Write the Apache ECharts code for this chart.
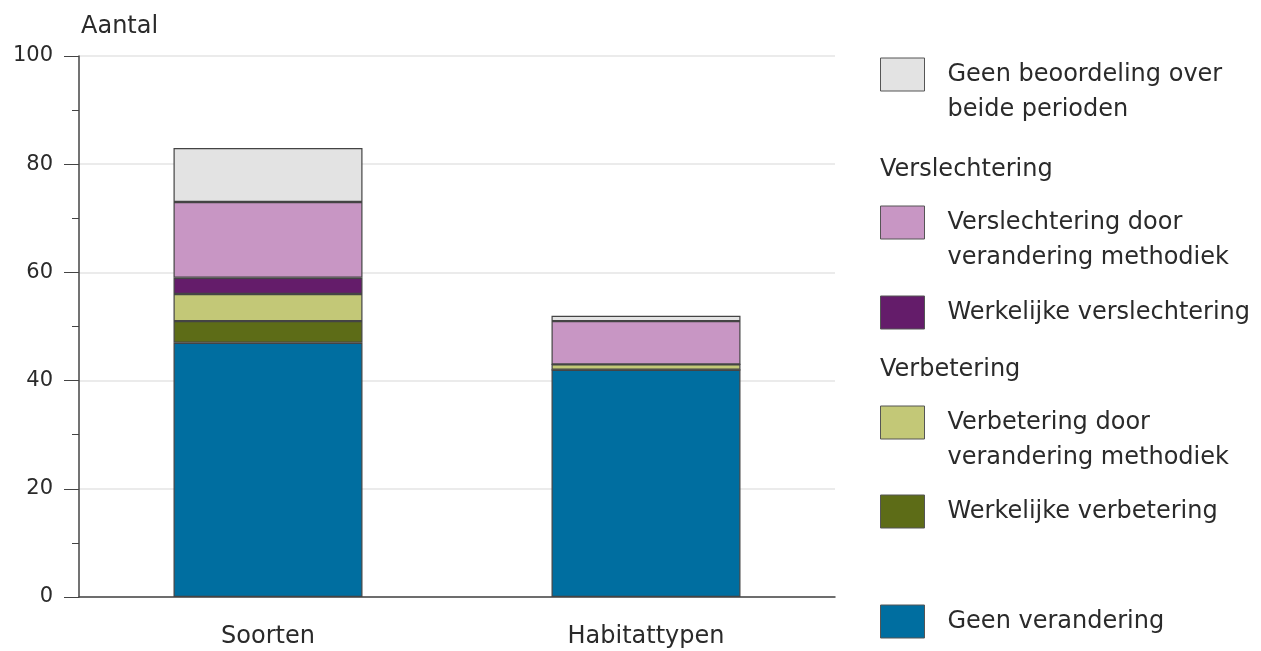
<!DOCTYPE html>
<html><head><meta charset="utf-8">
<script src="https://cdn.jsdelivr.net/npm/echarts@6/dist/echarts.min.js"></script>
<style>html,body{margin:0;padding:0;background:#fff}#c{width:1261px;height:651px}</style>
</head><body><div id="c"></div>
<script>
const categories = ['Soorten', 'Habitattypen'];
const geenVerandering = [47, 42];
const werkelijkeVerbetering = [4, 0];
const verbeteringMethodiek = [5, 1];
const werkelijkeVerslechtering = [3, 0];
const verslechteringMethodiek = [14, 8];
const geenBeoordeling = [10, 1];
const yTicks = [0, 20, 40, 60, 80, 100];

const FONT = 'DejaVu Sans';
const seriesDefs = [
  {name: 'Geen verandering', data: geenVerandering, color: '#006ea0', legendTop: 604},
  {name: 'Werkelijke verbetering', data: werkelijkeVerbetering, color: '#5d6c17', legendTop: 494},
  {name: 'Verbetering door\nverandering methodiek', data: verbeteringMethodiek, color: '#c3c877', legendTop: 405},
  {name: 'Werkelijke verslechtering', data: werkelijkeVerslechtering, color: '#641c6a', legendTop: 295},
  {name: 'Verslechtering door\nverandering methodiek', data: verslechteringMethodiek, color: '#c896c4', legendTop: 205},
  {name: 'Geen beoordeling over\nbeide perioden', data: geenBeoordeling, color: '#e3e3e3', legendTop: 57}
];

const chart = echarts.init(document.getElementById('c'));
const legends = seriesDefs.map(s => {
  const two = s.name.indexOf('\n') >= 0;
  return {
    data: [{name: s.name, icon: 'rect'}], left: 880, top: two ? s.legendTop - 35 : s.legendTop,
    padding: 0, orient: 'vertical', itemWidth: 44, itemHeight: 33, selectedMode: false,
    itemStyle: {borderColor: '#555', borderWidth: 1},
    formatter: two ? (n => ' \n' + n) : (n => n),
    textStyle: {fontFamily: FONT, fontSize: 24, color: '#2a2a2a', lineHeight: 35, padding: [0, 0, 0, 18]}
  };
});
chart.setOption({
  animation: false,
  textStyle: {fontFamily: FONT},
  grid: {left: 79, right: 426, top: 56, bottom: 54},
  legend: legends,
  graphic: [
    {type: 'text', left: 880, top: 158, style: {text: 'Verslechtering', fontFamily: FONT, fontSize: 24, fill: '#2a2a2a'}},
    {type: 'text', left: 880, top: 358, style: {text: 'Verbetering', fontFamily: FONT, fontSize: 24, fill: '#2a2a2a'}}
  ],
  xAxis: {
    type: 'category', data: categories,
    axisLine: {lineStyle: {color: '#444', width: 1.5}},
    axisTick: {show: false},
    axisLabel: {fontSize: 24, color: '#2a2a2a', margin: 28}
  },
  yAxis: {
    type: 'value', min: yTicks[0], max: yTicks[yTicks.length - 1], interval: 20,
    name: 'Aantal', nameLocation: 'end', nameGap: 17,
    nameTextStyle: {fontSize: 24, color: '#2a2a2a', align: 'left', padding: [0, 0, 0, 2]},
    axisLine: {show: true, lineStyle: {color: '#444', width: 1.5}},
    axisTick: {show: true, length: 15, lineStyle: {color: '#444'}},
    minorTick: {show: true, splitNumber: 2, length: 7, lineStyle: {color: '#444'}},
    axisLabel: {fontSize: 21, color: '#2a2a2a', margin: 26},
    splitLine: {lineStyle: {color: '#e4e4e4', width: 1.5}}
  },
  series: seriesDefs.map(s => ({
    name: s.name, type: 'bar', stack: 'total', data: s.data, barWidth: '50%',
    itemStyle: {color: s.color, borderColor: '#444', borderWidth: 1.2}
  }))
});
</script></body></html>
